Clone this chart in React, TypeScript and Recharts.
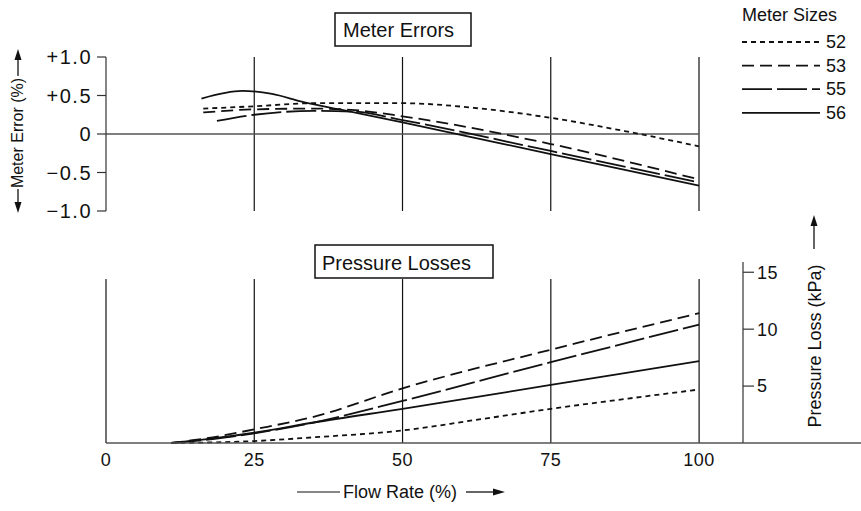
import React from 'react';
import { LineChart, Line, XAxis, YAxis, ReferenceLine } from 'recharts';

// meter sizes shown in the legend, in order
const meterSizes = ['52', '53', '55', '56'];

const flowTicks = [0, 25, 50, 75, 100];
const errorTicks = [-1, -0.5, 0, 0.5, 1];
const lossTicks = [5, 10, 15];

// meter error (%) against flow rate (%)
const error52 = [
    { x: 16.4, v: 0.33 }, { x: 25, v: 0.36 }, { x: 35, v: 0.4 }, { x: 50, v: 0.4 },
    { x: 62, v: 0.34 }, { x: 75, v: 0.21 }, { x: 88, v: 0.03 }, { x: 100, v: -0.16 },
];
const error53 = [
    { x: 16.4, v: 0.28 }, { x: 25, v: 0.32 }, { x: 35, v: 0.33 }, { x: 42, v: 0.31 },
    { x: 50, v: 0.23 }, { x: 75, v: -0.13 }, { x: 100, v: -0.59 },
];
const error55 = [
    { x: 18.7, v: 0.17 }, { x: 25, v: 0.25 }, { x: 35, v: 0.3 }, { x: 42, v: 0.29 },
    { x: 50, v: 0.18 }, { x: 75, v: -0.22 }, { x: 100, v: -0.63 },
];
const error56 = [
    { x: 16.1, v: 0.46 }, { x: 23, v: 0.56 }, { x: 28, v: 0.52 }, { x: 33, v: 0.42 },
    { x: 40, v: 0.31 }, { x: 50, v: 0.15 }, { x: 75, v: -0.26 }, { x: 100, v: -0.67 },
];

// pressure loss (kPa) against flow rate (%)
const loss52 = [
    { x: 11, v: 0 }, { x: 20, v: 0.08 }, { x: 25, v: 0.17 }, { x: 35, v: 0.5 }, { x: 50, v: 1.1 },
    { x: 62, v: 2.0 }, { x: 75, v: 3.0 }, { x: 88, v: 3.9 }, { x: 100, v: 4.7 },
];
const loss53 = [
    { x: 11, v: 0 }, { x: 18, v: 0.5 }, { x: 25, v: 1.2 }, { x: 35, v: 2.3 }, { x: 50, v: 4.8 },
    { x: 75, v: 8.2 }, { x: 100, v: 11.4 },
];
const loss55 = [
    { x: 11, v: 0 }, { x: 18, v: 0.35 }, { x: 25, v: 0.85 }, { x: 35, v: 1.8 }, { x: 50, v: 3.7 },
    { x: 75, v: 7.1 }, { x: 100, v: 10.4 },
];
const loss56 = [
    { x: 11, v: 0 }, { x: 18, v: 0.4 }, { x: 25, v: 0.9 }, { x: 35, v: 1.8 }, { x: 50, v: 3.0 },
    { x: 75, v: 5.1 }, { x: 100, v: 7.2 },
];

const errorData: Record<string, { x: number; v: number }[]> = { '52': error52, '53': error53, '55': error55, '56': error56 };
const lossData: Record<string, { x: number; v: number }[]> = { '52': loss52, '53': loss53, '55': loss55, '56': loss56 };

const dashFor: Record<string, string | undefined> = { '52': '5 4', '53': '12 6', '55': '30 5', '56': undefined };

const FONT = '"Liberation Sans", Arial, Helvetica, sans-serif';
const INK = '#111';
const GRID = '#333';

const fmtError = (v: number) => (v === 0 ? '0' : v > 0 ? `+${v.toFixed(1)}` : `\u2212${Math.abs(v).toFixed(1)}`);

const ArrowUp: React.FC<{ x: number; tip: number; tail: number }> = ({ x, tip, tail }) => (
    <g>
        <line x1={x} y1={tail} x2={x} y2={tip + 8} stroke={INK} strokeWidth={1.3} />
        <path d={`M${x} ${tip} L${x - 3.5} ${tip + 11} L${x + 3.5} ${tip + 11} Z`} fill={INK} />
    </g>
);

const ArrowDown: React.FC<{ x: number; tip: number; tail: number }> = ({ x, tip, tail }) => (
    <g>
        <line x1={x} y1={tail} x2={x} y2={tip - 8} stroke={INK} strokeWidth={1.3} />
        <path d={`M${x} ${tip} L${x - 3.5} ${tip - 11} L${x + 3.5} ${tip - 11} Z`} fill={INK} />
    </g>
);

export default function App() {
    return (
        <div style={{ position: 'absolute', left: 0, top: 0, width: 861, height: 511, background: '#fff', fontFamily: FONT }}>
            <div style={{ position: 'absolute', left: 0, top: 0 }}>
                <LineChart width={861} height={230} margin={{ top: 57, right: 162, bottom: 19, left: 46 }}>
                    <XAxis type="number" dataKey="x" domain={[0, 100]} hide />
                    <YAxis
                        type="number"
                        domain={[-1, 1]}
                        ticks={errorTicks}
                        tickFormatter={fmtError}
                        width={60}
                        tickSize={9}
                        tickMargin={5}
                        axisLine={{ stroke: GRID, strokeWidth: 1.2 }}
                        tickLine={{ stroke: GRID, strokeWidth: 1.2 }}
                        tick={{ fill: INK, fontSize: 20, letterSpacing: 1.5 }}
                    />
                    {flowTicks.slice(1).map(t => (
                        <ReferenceLine key={t} x={t} stroke={INK} strokeWidth={1.2} />
                    ))}
                    <ReferenceLine y={0} stroke="#555" strokeWidth={1.3} />
                    {meterSizes.map(s => (
                        <Line
                            key={s}
                            data={errorData[s]}
                            dataKey="v"
                            type="monotone"
                            stroke={INK}
                            strokeWidth={1.8}
                            strokeDasharray={dashFor[s]}
                            dot={false}
                            activeDot={false}
                            isAnimationActive={false}
                        />
                    ))}
                </LineChart>
            </div>

            <div style={{ position: 'absolute', left: 0, top: 230 }}>
                <LineChart width={861} height={281} margin={{ top: 32, right: 0, bottom: 38, left: 106 }}>
                    <XAxis
                        type="number"
                        dataKey="x"
                        domain={[0, 107.4]}
                        ticks={flowTicks}
                        height={30}
                        tickLine={false}
                        tickSize={6}
                        tickMargin={4}
                        axisLine={{ stroke: '#555', strokeWidth: 1.6 }}
                        tick={{ fill: INK, fontSize: 18, letterSpacing: 0.5 }}
                    />
                    <YAxis
                        type="number"
                        orientation="right"
                        domain={[0, 15.9]}
                        ticks={lossTicks}
                        width={118}
                        tickSize={11}
                        tickMargin={3}
                        axisLine={{ stroke: GRID, strokeWidth: 1.2 }}
                        tickLine={{ stroke: GRID, strokeWidth: 1.2 }}
                        tick={{ fill: INK, fontSize: 18, letterSpacing: 0.5 }}
                    />
                    {flowTicks.map(t => (
                        <ReferenceLine key={t} segment={[{ x: t, y: 0 }, { x: t, y: 14.4 }]} stroke={INK} strokeWidth={1.2} />
                    ))}
                    {meterSizes.map(s => (
                        <Line
                            key={s}
                            data={lossData[s]}
                            dataKey="v"
                            type="monotone"
                            stroke={INK}
                            strokeWidth={1.8}
                            strokeDasharray={dashFor[s]}
                            dot={false}
                            activeDot={false}
                            isAnimationActive={false}
                        />
                    ))}
                </LineChart>
            </div>

            <svg width={861} height={511} style={{ position: 'absolute', left: 0, top: 0, pointerEvents: 'none' }}>
                {/* baseline carries on past the kPa axis */}
                <line x1={743} y1={443} x2={861} y2={443} stroke="#555" strokeWidth={1.6} />

                <rect x={335} y={13} width={136} height={33} fill="#fff" stroke={INK} strokeWidth={1.5} />
                <text x={343} y={37} fontSize={20} fill={INK}>Meter Errors</text>

                <rect x={315} y={245} width={178} height={33} fill="#fff" stroke={INK} strokeWidth={1.5} />
                <text x={322} y={270} fontSize={20} fill={INK}>Pressure Losses</text>

                <text x={742} y={21} fontSize={18} fill={INK}>Meter Sizes</text>
                {meterSizes.map((s, i) => (
                    <g key={s}>
                        <line x1={742} y1={42 + i * 23.6} x2={820} y2={42 + i * 23.6} stroke={INK} strokeWidth={1.8} strokeDasharray={dashFor[s]} />
                        <text x={826} y={48 + i * 23.6} fontSize={18} fill={INK}>{s}</text>
                    </g>
                ))}

                <text transform="translate(23,133) rotate(-90)" textAnchor="middle" fontSize={16} fill={INK}>Meter Error (%)</text>
                <ArrowUp x={18} tip={49} tail={76} />
                <ArrowDown x={18} tip={213} tail={189} />

                <text transform="translate(821,346) rotate(-90)" textAnchor="middle" fontSize={18} fill={INK}>Pressure Loss (kPa)</text>
                <ArrowUp x={814} tip={215} tail={249} />

                <line x1={297} y1={492} x2={340} y2={492} stroke={INK} strokeWidth={1.2} />
                <text x={343} y={498} fontSize={18} fill={INK}>Flow Rate (%)</text>
                <line x1={466} y1={492} x2={496} y2={492} stroke={INK} strokeWidth={1.3} />
                <path d="M505 492 L493 488.5 L493 495.5 Z" fill={INK} />
            </svg>
        </div>
    );
}
